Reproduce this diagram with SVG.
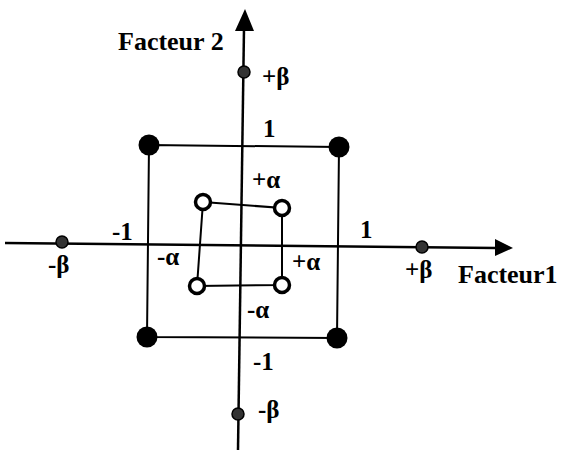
<svg xmlns="http://www.w3.org/2000/svg" width="562" height="450" viewBox="0 0 562 450">
<style>
.ax{stroke:#000;stroke-width:2.5;fill:none}
.sq{stroke:#000;stroke-width:2;fill:none}
.big{fill:#000}
.mid{fill:#fff;stroke:#000;stroke-width:3.5}
.sm{fill:#333;stroke:#000;stroke-width:1.5}
</style>
<rect width="562" height="450" fill="#fff"/>
<g id="connectors">
<path class="ax" d="M5,243 L496,248"/>
<path d="M495,239 L513,248 L495,256 Z" fill="#000"/>
<path class="ax" d="M238,450 L244,28"/>
<path d="M235,31 L245,9 L254,31 Z" fill="#000"/>
<path class="sq" d="M149,145 L339,147 L337,338 L147,337 Z"/>
<path class="sq" d="M203,202 L282,208 L282,285 L197,286 Z"/>
</g>
<g id="outer-tl"><circle class="big" cx="149" cy="145" r="10.5"/></g>
<g id="outer-tr"><circle class="big" cx="339" cy="147" r="10.5"/></g>
<g id="outer-bl"><circle class="big" cx="147" cy="337" r="10.5"/></g>
<g id="outer-br"><circle class="big" cx="337" cy="338" r="10.5"/></g>
<g id="inner-tl"><circle class="mid" cx="203" cy="202" r="7.5"/></g>
<g id="inner-tr"><circle class="mid" cx="282" cy="208" r="7.5"/></g>
<g id="inner-bl"><circle class="mid" cx="197" cy="286" r="7.5"/></g>
<g id="inner-br"><circle class="mid" cx="282" cy="285" r="7.5"/></g>
<g id="beta-top"><circle class="sm" cx="244" cy="72" r="6"/></g>
<g id="beta-bottom"><circle class="sm" cx="238" cy="414" r="6"/></g>
<g id="beta-left"><circle class="sm" cx="62" cy="242" r="6"/></g>
<g id="beta-right"><circle class="sm" cx="422" cy="247" r="6"/></g>
<g id="labels" font-family="Liberation Serif, Times New Roman, serif" font-weight="bold" font-size="25" fill="#000">
<text x="118" y="50" font-size="26">Facteur 2</text>
<text x="458" y="283" font-size="26">Facteur1</text>
<text x="262" y="85">+β</text>
<text x="263" y="137">1</text>
<text x="252" y="188">+α</text>
<text x="112" y="240">-1</text>
<text x="360" y="238">1</text>
<text x="157" y="265">-α</text>
<text x="292" y="270">+α</text>
<text x="48" y="273">-β</text>
<text x="405" y="278">+β</text>
<text x="247" y="318">-α</text>
<text x="253" y="370">-1</text>
<text x="258" y="418">-β</text>
</g>
</svg>
